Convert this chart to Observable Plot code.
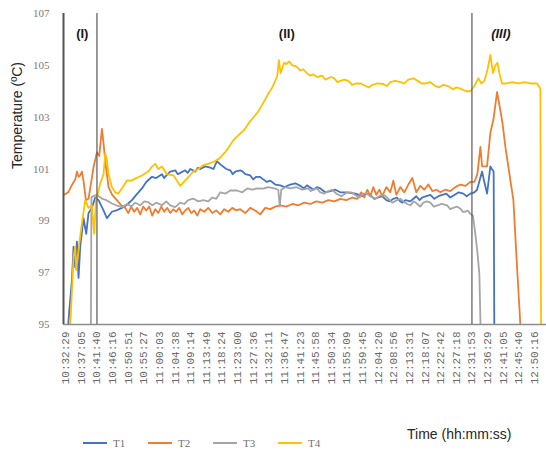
<!DOCTYPE html>
<html><head><meta charset="utf-8">
<script src="https://cdn.jsdelivr.net/npm/d3@7"></script>
<script src="https://cdn.jsdelivr.net/npm/@observablehq/plot@0.6"></script>
<style>
body{margin:0;background:#fff;}
#wrap{position:relative;width:546px;height:450px;overflow:hidden;background:#fff;}
.lg{position:absolute;top:437px;height:12px;font-family:"Liberation Serif",serif;font-size:11px;color:#6f6f6f;display:flex;align-items:center;}
.lg span.sw{display:inline-block;width:24px;height:2px;margin-right:6px;}
#xt{position:absolute;left:407px;top:426px;font-family:"Liberation Sans",Arial,sans-serif;font-size:14px;color:#262626;}
</style></head><body><div id="wrap"></div>
<script>
// ---------- data ----------
const seriesNames = ["T1", "T2", "T3", "T4"];
const seriesColors = ["#4472C4", "#ED7D31", "#A5A5A5", "#FFC000"];

const T1 = [["10:32:38",94.0],["10:33:31",95.5],["10:34:18",96.7],["10:34:47",98.0],["10:35:17",97.2],["10:35:47",98.2],["10:36:15",96.8],["10:36:45",98.0],["10:37:43",99.1],["10:38:31",98.5],["10:39:11",99.3],["10:40:11",99.5],["10:41:09",99.9],["10:42:08",99.8],["10:43:36",99.4],["10:44:36",99.1],["10:46:04",99.35],["10:47:20",99.4],["10:49:00",99.5],["10:50:16",99.6],["10:51:57",99.8],["10:53:13",100.0],["10:54:53",100.25],["10:56:09",100.5],["10:57:50",100.7],["10:59:05",100.65],["11:00:46",100.8],["11:01:25",100.65],["11:02:02",100.75],["11:03:13",100.9],["11:04:41",100.95],["11:05:25",100.8],["11:06:09",100.85],["11:07:37",100.95],["11:08:20",100.85],["11:09:05",101.0],["11:10:34",100.9],["11:11:20",101.05],["11:12:02",101.0],["11:13:30",101.1],["11:14:58",101.05],["11:15:55",101.0],["11:16:56",101.3],["11:18:12",101.15],["11:19:41",101.0],["11:20:51",100.95],["11:21:35",100.8],["11:22:19",100.9],["11:23:47",100.95],["11:24:30",100.9],["11:25:16",100.8],["11:26:44",100.75],["11:27:35",100.6],["11:28:30",100.7],["11:29:30",100.7],["11:30:33",100.6],["11:31:35",100.5],["11:32:37",100.55],["11:34:05",100.4],["11:35:33",100.37],["11:36:50",100.3],["11:38:29",100.4],["11:40:00",100.45],["11:41:26",100.35],["11:42:30",100.25],["11:43:24",100.37],["11:45:16",100.2],["11:46:20",100.3],["11:47:19",100.25],["11:48:45",100.1],["11:50:16",100.15],["11:51:45",100.2],["11:53:12",100.1],["11:55:10",100.1],["11:57:36",100.05],["11:59:40",99.95],["12:00:50",100.05],["12:02:01",100.0],["12:03:10",99.85],["12:04:22",99.9],["12:05:30",99.95],["12:06:43",99.8],["12:07:45",99.75],["12:08:47",99.85],["12:09:50",99.9],["12:10:50",99.75],["12:11:30",99.7],["12:12:19",99.8],["12:13:47",99.75],["12:14:40",99.85],["12:15:32",99.95],["12:16:30",99.8],["12:17:18",99.9],["12:18:30",99.95],["12:19:40",100.0],["12:20:50",99.85],["12:22:01",99.95],["12:23:10",100.0],["12:24:22",100.05],["12:25:30",99.9],["12:26:43",100.0],["12:28:00",100.1],["12:29:22",100.05],["12:30:20",99.95],["12:31:25",100.05],["12:32:36",100.1],["12:33:23",100.2],["12:34:52",100.9],["12:35:32",100.5],["12:36:20",100.05],["12:37:18",101.1],["12:37:44",101.0],["12:38:16",100.9],["12:38:29",94.0]];

const T2 = [["10:31:55",100.0],["10:33:13",100.1],["10:34:23",100.4],["10:35:17",100.6],["10:35:47",100.9],["10:36:18",100.7],["10:36:45",100.75],["10:37:15",100.9],["10:37:46",100.5],["10:38:25",99.8],["10:39:11",99.85],["10:39:59",100.5],["10:40:40",101.07],["10:41:40",101.65],["10:42:20",101.5],["10:43:08",102.55],["10:43:40",101.9],["10:44:06",101.3],["10:45:04",100.3],["10:46:09",100.0],["10:47:32",99.8],["10:48:48",99.6],["10:49:59",99.5],["10:50:52",99.3],["10:51:44",99.55],["10:52:37",99.35],["10:53:30",99.5],["10:54:23",99.25],["10:55:16",99.55],["10:56:09",99.4],["10:57:02",99.55],["10:57:55",99.2],["10:58:48",99.45],["10:59:41",99.3],["11:00:34",99.55],["11:01:27",99.35],["11:02:20",99.5],["11:03:13",99.3],["11:04:05",99.45],["11:04:58",99.35],["11:05:52",99.5],["11:06:44",99.25],["11:07:37",99.4],["11:08:30",99.5],["11:09:23",99.3],["11:10:16",99.4],["11:11:09",99.2],["11:12:02",99.45],["11:13:12",99.35],["11:14:23",99.5],["11:15:34",99.3],["11:16:44",99.4],["11:17:55",99.25],["11:19:05",99.45],["11:20:16",99.35],["11:21:26",99.5],["11:22:37",99.4],["11:23:47",99.45],["11:25:16",99.3],["11:26:44",99.5],["11:28:12",99.4],["11:29:40",99.25],["11:31:08",99.5],["11:32:37",99.45],["11:34:05",99.55],["11:35:33",99.6],["11:37:19",99.55],["11:39:05",99.65],["11:40:50",99.6],["11:42:37",99.7],["11:44:22",99.65],["11:46:08",99.75],["11:47:54",99.7],["11:49:40",99.8],["11:51:26",99.75],["11:53:12",99.85],["11:54:58",99.8],["11:56:43",99.9],["11:58:11",99.85],["11:59:22",100.1],["12:00:15",99.9],["12:01:08",100.2],["12:02:01",99.95],["12:02:54",100.3],["12:03:47",100.0],["12:04:40",100.2],["12:05:32",99.95],["12:06:43",100.3],["12:07:54",100.1],["12:08:47",100.55],["12:09:40",100.0],["12:10:50",100.3],["12:12:01",100.1],["12:13:11",100.4],["12:14:22",100.65],["12:15:32",100.1],["12:16:43",100.35],["12:17:53",100.2],["12:19:04",100.4],["12:20:15",100.15],["12:21:25",100.2],["12:22:36",100.1],["12:24:04",100.2],["12:25:32",100.15],["12:27:01",100.3],["12:28:29",100.4],["12:29:57",100.35],["12:31:25",100.5],["12:32:36",100.5],["12:33:29",100.8],["12:34:22",101.85],["12:34:52",101.1],["12:36:20",101.1],["12:37:18",102.4],["12:38:11",102.9],["12:39:16",103.97],["12:40:14",103.26],["12:40:50",102.8],["12:41:43",101.85],["12:43:11",100.56],["12:44:04",99.8],["12:45:09",97.2],["12:46:07",95.0],["12:46:42",94.0]];

const T3 = [["10:31:55",94.0],["10:39:52",94.0],["10:40:02",99.9],["10:40:34",99.95],["10:41:40",100.0],["10:43:08",99.86],["10:44:23",99.8],["10:46:04",99.67],["10:47:20",99.6],["10:49:00",99.53],["10:50:34",99.65],["10:51:44",99.55],["10:52:55",99.7],["10:54:23",99.6],["10:55:34",99.75],["10:56:44",99.72],["10:57:55",99.6],["10:59:05",99.7],["11:00:46",99.6],["11:02:02",99.75],["11:03:13",99.6],["11:04:41",99.53],["11:06:09",99.7],["11:07:20",99.65],["11:08:30",99.8],["11:09:58",99.86],["11:11:26",99.75],["11:12:55",99.8],["11:14:23",99.75],["11:15:34",99.9],["11:16:44",99.85],["11:17:55",100.1],["11:19:23",100.05],["11:20:51",100.17],["11:22:49",100.17],["11:24:23",100.1],["11:25:51",100.25],["11:27:19",100.2],["11:28:42",100.25],["11:30:33",100.24],["11:32:01",100.3],["11:33:47",100.25],["11:34:58",100.2],["11:35:24",99.55],["11:35:50",100.2],["11:37:01",100.3],["11:38:29",100.25],["11:40:16",100.3],["11:42:01",100.2],["11:43:47",100.25],["11:44:30",100.15],["11:45:16",100.2],["11:46:20",100.25],["11:47:19",100.1],["11:48:30",100.05],["11:49:40",100.15],["11:50:50",100.2],["11:52:02",100.05],["11:53:30",99.95],["11:55:10",100.1],["11:56:20",100.1],["11:57:36",100.0],["11:58:50",99.9],["11:59:58",100.05],["12:01:00",100.05],["12:02:01",99.95],["12:03:30",99.85],["12:04:57",99.98],["12:06:00",100.0],["12:07:19",99.85],["12:08:30",99.7],["12:09:52",99.8],["12:10:50",99.85],["12:11:43",99.75],["12:12:50",99.65],["12:13:47",99.6],["12:14:50",99.75],["12:15:45",99.66],["12:16:40",99.55],["12:17:36",99.7],["12:18:40",99.75],["12:19:40",99.7],["12:20:40",99.55],["12:21:43",99.6],["12:23:00",99.65],["12:24:34",99.6],["12:25:30",99.45],["12:26:25",99.5],["12:27:30",99.55],["12:28:29",99.47],["12:29:10",99.35],["12:29:57",99.35],["12:30:40",99.4],["12:31:25",99.27],["12:32:10",99.2],["12:32:53",98.5],["12:33:29",97.8],["12:34:04",96.95],["12:34:34",94.0]];

const T4 = [["10:33:13",94.0],["10:33:57",95.3],["10:34:47",97.6],["10:35:17",98.0],["10:35:34",97.1],["10:36:01",97.6],["10:36:27",98.1],["10:37:15",98.9],["10:38:13",99.8],["10:39:11",99.5],["10:40:11",99.6],["10:40:40",98.75],["10:40:52",98.5],["10:41:22",99.8],["10:42:02",100.1],["10:42:38",100.44],["10:43:36",100.8],["10:44:06",101.6],["10:44:32",101.4],["10:45:04",100.8],["10:46:04",100.3],["10:47:02",100.1],["10:47:55",100.05],["10:49:00",100.25],["10:50:29",100.56],["10:51:44",100.55],["10:52:55",100.63],["10:54:53",100.75],["10:56:44",100.9],["10:57:55",101.1],["10:58:48",101.2],["10:59:41",101.0],["11:00:46",101.1],["11:02:14",100.8],["11:04:11",100.75],["11:06:09",100.35],["11:07:55",100.6],["11:09:58",100.9],["11:11:26",101.0],["11:12:55",101.15],["11:14:23",101.2],["11:15:51",101.27],["11:17:37",101.4],["11:19:23",101.65],["11:21:44",102.1],["11:23:12",102.3],["11:24:53",102.5],["11:26:44",102.85],["11:28:59",103.2],["11:30:33",103.55],["11:32:01",103.9],["11:33:12",104.15],["11:34:05",104.4],["11:34:40",104.6],["11:35:08",105.2],["11:35:38",104.7],["11:36:40",105.1],["11:37:19",105.05],["11:38:12",105.15],["11:39:05",105.0],["11:40:16",104.96],["11:41:26",104.8],["11:42:19",104.85],["11:43:19",104.7],["11:44:22",104.6],["11:45:16",104.65],["11:46:24",104.55],["11:47:54",104.6],["11:48:45",104.45],["11:49:40",104.5],["11:50:30",104.55],["11:51:26",104.5],["11:52:20",104.35],["11:53:12",104.4],["11:54:20",104.45],["11:55:33",104.4],["11:56:40",104.25],["11:57:54",104.3],["11:59:10",104.3],["12:00:43",104.2],["12:01:40",104.15],["12:02:36",104.25],["12:04:10",104.3],["12:05:50",104.28],["12:06:50",104.2],["12:07:54",104.35],["12:09:20",104.4],["12:10:57",104.35],["12:12:00",104.3],["12:13:11",104.45],["12:14:40",104.5],["12:16:04",104.39],["12:17:10",104.3],["12:18:11",104.3],["12:19:40",104.35],["12:21:08",104.2],["12:22:20",104.15],["12:23:29",104.25],["12:24:50",104.2],["12:26:18",104.08],["12:27:20",104.15],["12:28:29",104.1],["12:29:20",104.05],["12:30:14",104.0],["12:31:25",104.0],["12:32:36",104.2],["12:33:46",104.5],["12:34:40",104.3],["12:35:32",104.4],["12:36:25",104.8],["12:37:18",105.4],["12:38:05",104.7],["12:38:46",105.0],["12:39:22",105.1],["12:39:57",104.7],["12:40:44",104.3],["12:42:00",104.3],["12:43:46",104.35],["12:45:32",104.3],["12:47:18",104.35],["12:49:04",104.3],["12:51:02",104.3],["12:52:00",104.1],["12:52:13",94.0]];

const xTickLabels = ["10:32:29","10:37:05","10:41:40","10:46:16","10:50:51","10:55:27","11:00:03","11:04:38","11:09:14","11:13:49","11:18:24","11:23:00","11:27:36","11:32:11","11:36:47","11:41:23","11:45:58","11:50:34","11:55:09","11:59:45","12:04:20","12:08:56","12:13:31","12:18:07","12:22:42","12:27:18","12:31:53","12:36:29","12:41:05","12:45:40","12:50:16"];
const yTicks = [95, 97, 99, 101, 103, 105, 107];
const xDomain = ["10:31:50", "12:53:48"];
const phaseBoundaries = ["10:41:40", "12:31:53"];
const phaseLabels = ["(I)", "(II)", "(III)"];
const phaseLabelTimes = ["10:37:21", "11:37:28", "12:40:24"];
const phaseLabelY = 106.2;
const yTitle = "Temperature (ºC)";
const xTitle = "Time (hh:mm:ss)";

// ---------- build ----------
const tp = s => { const [h, m, sec] = s.split(":").map(Number); return new Date(Date.UTC(2020, 0, 1, h, m, sec)); };
const rows = [];
[T1, T2, T3, T4].forEach((arr, i) => arr
  .map(([t, v]) => ({series: seriesNames[i], time: tp(t), value: v}))
  .sort((a, b) => a.time - b.time)
  .forEach(r => rows.push(r)));
const phaseRows = phaseLabels.map((l, i) => ({label: l, time: tp(phaseLabelTimes[i]), y: phaseLabelY, italic: i === 2}));

const H = 425;
const chart = Plot.plot({
  width: 546, height: H,
  marginLeft: 63, marginRight: 0, marginTop: 13, marginBottom: H - 324,
  style: {background: "#fff", overflow: "visible"},
  x: {type: "utc", domain: xDomain.map(tp)},
  y: {domain: [95, 107]},
  color: {domain: seriesNames, range: seriesColors},
  marks: [
    Plot.axisY({ticks: yTicks, tickSize: 0, tickPadding: 14, label: null, fontSize: 11, fontFamily: "Liberation Serif, serif", fill: "#7a7a7a"}),
    Plot.axisX({ticks: xTickLabels.map(tp), tickFormat: d3.utcFormat("%H:%M:%S"), tickRotate: -90, tickSize: 0, tickPadding: 7, label: null, fontSize: 11, fontFamily: "Liberation Mono, monospace", fill: "#6a6a6a"}),
    Plot.line(rows, {x: "time", y: "value", z: "series", stroke: "series", strokeWidth: 1.8, clip: true}),
    Plot.ruleY([95], {stroke: "#8c8c8c", strokeWidth: 1.5}),
    Plot.ruleX([tp(xDomain[0])], {stroke: "#555", strokeWidth: 2}),
    Plot.ruleX(phaseBoundaries.map(tp), {stroke: "#5a5a5a", strokeWidth: 1.2}),
    Plot.text(phaseRows.filter(d => !d.italic), {x: "time", y: "y", text: "label", fontWeight: "bold", fontSize: 13, fontFamily: "Liberation Sans, Arial, sans-serif", fill: "#1a1a1a"}),
    Plot.text(phaseRows.filter(d => d.italic), {x: "time", y: "y", text: "label", fontWeight: "bold", fontStyle: "italic", fontSize: 13, fontFamily: "Liberation Sans, Arial, sans-serif", fill: "#1a1a1a"}),
    Plot.text([yTitle], {frameAnchor: "left", dx: -46, rotate: -90, fontSize: 14, fontFamily: "Liberation Sans, Arial, sans-serif", fill: "#262626"})
  ]
});
const wrap = document.getElementById("wrap");
wrap.appendChild(chart);

const legendX = [83, 148, 213, 278];
seriesNames.forEach((n, i) => {
  const d = document.createElement("div");
  d.className = "lg";
  d.style.left = legendX[i] + "px";
  d.innerHTML = `<span class="sw" style="background:${seriesColors[i]}"></span>${n}`;
  wrap.appendChild(d);
});
const xt = document.createElement("div");
xt.id = "xt"; xt.textContent = xTitle;
wrap.appendChild(xt);
</script></body></html>
